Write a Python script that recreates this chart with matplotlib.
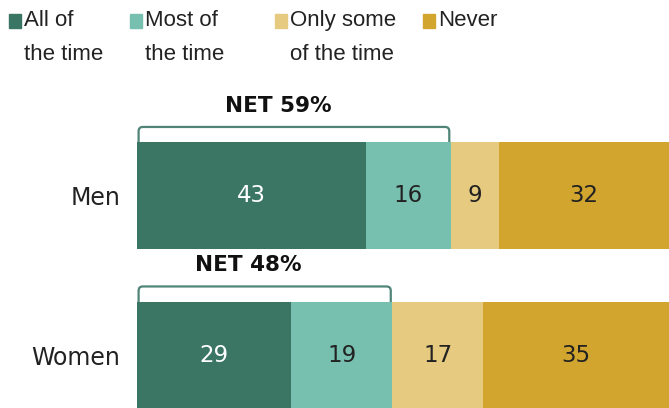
import matplotlib
matplotlib.use("Agg")
import matplotlib.pyplot as plt
from matplotlib.patches import FancyBboxPatch, Rectangle
import numpy as np

plt.rcParams['font.family'] = ['DejaVu Sans']

groups = ['Men', 'Women']
categories = ['All of\nthe time', 'Most of\nthe time', 'Only some\nof the time', 'Never']
values = {
    'All of\nthe time': [43, 29],
    'Most of\nthe time': [16, 19],
    'Only some\nof the time': [9, 17],
    'Never': [32, 35],
}
nets = [59, 48]
colors = ['#3b7563', '#77bfae', '#e6ca80', '#d2a52e']
label_colors = ['white', '#222222', '#222222', '#222222']

fig = plt.figure(figsize=(6.69, 4.08), dpi=100)
ax = fig.add_axes([137 / 669, 0, 1 - 137 / 669, 1])

y = np.arange(len(groups))
bar_h = 0.67
left = np.zeros(len(groups))
for cat, col, lc in zip(categories, colors, label_colors):
    vals = np.array(values[cat])
    ax.barh(y, vals, left=left, height=bar_h, color=col, zorder=3)
    for yi, v, l in zip(y, vals, left):
        ax.text(l + v / 2, yi, str(v), ha='center', va='center',
                color=lc, fontsize=16.5, zorder=4)
    left += vals

# NET brackets
aspect = (100 / 532) / (1 / 159.5)
for yi, net in zip(y, nets):
    top = yi - bar_h / 2 - 0.095
    box = FancyBboxPatch((0.3, top), net - 0.6, 0.2,
                         boxstyle='round,pad=0,rounding_size=0.8',
                         mutation_aspect=1 / aspect,
                         facecolor='none', edgecolor='#4f8477', lw=1.6,
                         zorder=2, clip_on=False)
    ax.add_patch(box)
    ax.text(net / 2 - 3, top - 0.07, 'NET ' + str(net) + '%', ha='center',
            va='bottom', fontsize=15.5, fontweight='bold', color='#111111')

ax.set_xlim(0, 100)
ax.set_ylim(1.332, -1.226)
ax.set_yticks(y)
ax.set_yticklabels(groups, fontsize=17, color='#222222')
ax.tick_params(axis='y', length=0, pad=12)
ax.set_xticks([])
for s in ax.spines.values():
    s.set_visible(False)

# legend drawn by hand
leg_x = [9, 130, 275, 423]
for lx, cat, col in zip(leg_x, categories, colors):
    fig.patches.append(Rectangle((lx / 669, 1 - 28 / 408), 12 / 669, 14 / 408,
                                 transform=fig.transFigure, color=col))
    fig.text((lx + 15) / 669, 1 - 10 / 408, cat, ha='left', va='top',
             fontsize=16, color='#222222', linespacing=1.8,
             family=['Liberation Sans', 'DejaVu Sans'])

fig.savefig('out.png', dpi=100)
